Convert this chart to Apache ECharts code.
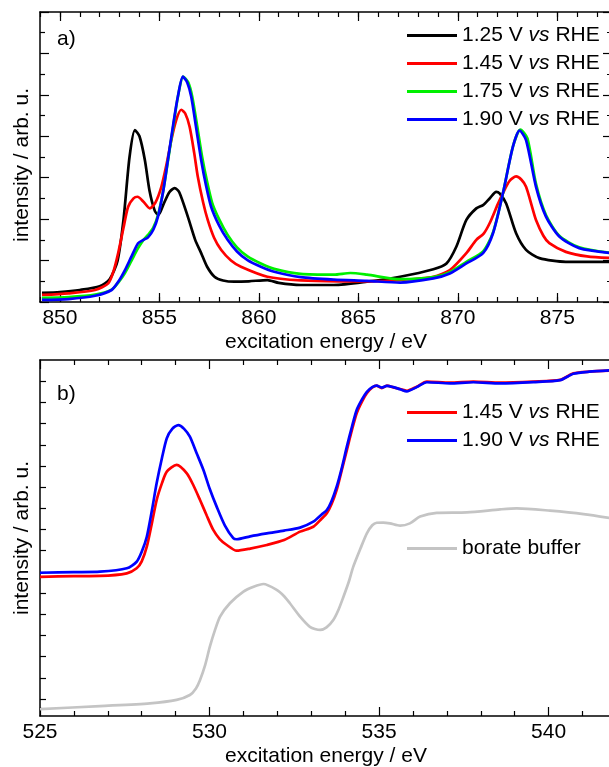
<!DOCTYPE html>
<html>
  <head>
    <meta charset="utf-8">
    <title>XAS spectra</title>
    <style>
      html, body { margin: 0; padding: 0; background: #fff; }
      #chart { width: 609px; height: 767px; }
    </style>
  </head>
  <body>
    <div id="chart"></div>
    <script src="https://cdn.jsdelivr.net/npm/echarts@6/dist/echarts.min.js"></script>
    <script>
      // Panel a) Ni L-edge, intensity in arbitrary units
      var niE_125 = [849.1, 850.0, 851.0, 852.0, 852.5, 852.9, 853.2, 853.5, 853.77, 854.0, 854.27, 854.5, 854.77, 854.95, 855.2, 855.5, 855.77, 856.0, 856.43, 856.8, 857.1, 857.4, 857.77, 858.2, 858.77, 859.5, 860.43, 861.0, 862.1, 863.77, 865.43, 867.1, 868.77, 869.43, 869.93, 870.43, 870.93, 871.27, 871.6, 871.93, 872.1, 872.43, 872.93, 873.43, 874.1, 875.43, 876.5, 877.75];
      var niI_125 = [0.22, 0.24, 0.29, 0.38, 0.55, 1.0, 2.0, 3.5, 4.15, 4.0, 3.43, 2.7, 2.2, 2.1, 2.35, 2.65, 2.75, 2.65, 2.06, 1.5, 1.18, 0.85, 0.61, 0.52, 0.49, 0.5, 0.53, 0.46, 0.41, 0.41, 0.49, 0.61, 0.79, 0.93, 1.34, 1.98, 2.26, 2.34, 2.5, 2.66, 2.62, 2.38, 1.66, 1.26, 1.06, 0.97, 0.97, 0.97];

      var niE_145 = [849.1, 850.43, 851.77, 852.43, 852.7, 852.93, 853.2, 853.43, 853.7, 853.9, 854.2, 854.52, 854.8, 855.1, 855.35, 855.6, 855.85, 856.1, 856.3, 856.52, 856.75, 856.93, 857.2, 857.43, 857.75, 858.1, 858.6, 859.1, 860.43, 862.1, 864.0, 865.43, 867.1, 868.77, 869.6, 870.43, 870.93, 871.3, 871.6, 872.0, 872.27, 872.6, 872.93, 873.2, 873.43, 873.7, 873.93, 874.3, 874.6, 875.43, 876.5, 877.75];
      var niI_145 = [0.17, 0.21, 0.29, 0.45, 0.75, 1.18, 1.8, 2.3, 2.5, 2.54, 2.42, 2.26, 2.4, 2.78, 3.3, 3.91, 4.4, 4.64, 4.55, 4.23, 3.6, 3.03, 2.4, 1.98, 1.55, 1.26, 1.0, 0.85, 0.61, 0.52, 0.5, 0.5, 0.53, 0.61, 0.77, 1.18, 1.5, 1.65, 1.9, 2.35, 2.63, 2.92, 3.03, 2.95, 2.78, 2.35, 1.98, 1.6, 1.42, 1.21, 1.1, 1.06];

      var niE_175 = [849.1, 850.43, 851.77, 852.6, 852.95, 853.27, 853.6, 853.93, 854.2, 854.43, 854.7, 854.93, 855.2, 855.43, 855.7, 855.93, 856.2, 856.45, 856.65, 856.9, 857.15, 857.4, 857.65, 858.0, 858.43, 858.9, 859.43, 860.1, 860.77, 862.1, 863.77, 864.6, 865.43, 867.1, 868.77, 869.6, 870.43, 871.27, 871.77, 872.27, 872.77, 873.15, 873.5, 873.93, 874.43, 875.1, 876.1, 877.75];
      var niI_175 = [0.1, 0.12, 0.18, 0.3, 0.48, 0.7, 1.0, 1.3, 1.5, 1.62, 1.8, 2.1, 2.7, 3.4, 4.25, 4.95, 5.44, 5.3, 4.96, 4.25, 3.5, 2.9, 2.4, 2.0, 1.62, 1.32, 1.1, 0.93, 0.8, 0.68, 0.66, 0.7, 0.66, 0.55, 0.6, 0.72, 0.97, 1.22, 1.68, 2.63, 3.75, 4.16, 3.95, 2.85, 2.1, 1.6, 1.32, 1.18];

      var niE_190 = [849.1, 850.43, 851.77, 852.6, 852.95, 853.27, 853.6, 853.93, 854.2, 854.43, 854.7, 854.93, 855.2, 855.43, 855.7, 855.93, 856.18, 856.4, 856.6, 856.85, 857.1, 857.35, 857.6, 858.0, 858.43, 858.9, 859.43, 860.1, 860.77, 862.1, 863.77, 865.43, 867.1, 868.77, 869.6, 870.43, 871.27, 871.77, 872.27, 872.77, 873.1, 873.43, 873.93, 874.43, 875.1, 876.1, 877.75];
      var niI_190 = [0.05, 0.07, 0.15, 0.29, 0.5, 0.77, 1.1, 1.42, 1.5, 1.56, 1.75, 2.06, 2.7, 3.43, 4.3, 4.96, 5.44, 5.3, 4.96, 4.2, 3.43, 2.8, 2.3, 1.85, 1.5, 1.22, 1.01, 0.85, 0.73, 0.6, 0.54, 0.51, 0.47, 0.57, 0.69, 0.93, 1.18, 1.66, 2.63, 3.75, 4.14, 3.91, 2.78, 2.06, 1.58, 1.3, 1.18];

      // Panel b) O K-edge
      var oE_145 = [525.0, 526.0, 526.77, 527.56, 527.85, 528.0, 528.15, 528.3, 528.44, 528.6, 528.74, 529.03, 529.33, 529.52, 529.72, 529.92, 530.11, 530.3, 530.51, 530.8, 531.2, 531.69, 532.2, 532.67, 533.06, 533.3, 533.46, 533.6, 533.75, 533.9, 534.05, 534.2, 534.34, 534.5, 534.64, 534.8, 534.93, 535.08, 535.23, 535.42, 535.62, 535.82, 536.11, 536.41, 537.09, 537.78, 538.57, 539.55, 540.34, 540.73, 541.2, 541.87];
      var oI_145 = [5.77, 5.8, 5.81, 5.93, 6.17, 6.5, 7.19, 8.3, 9.39, 10.2, 10.73, 11.05, 10.65, 10.1, 9.39, 8.65, 7.98, 7.55, 7.27, 7.0, 7.1, 7.27, 7.5, 7.9, 8.13, 8.5, 8.77, 9.2, 9.87, 10.8, 11.75, 12.7, 13.49, 14.05, 14.43, 14.7, 14.79, 14.67, 14.79, 14.71, 14.63, 14.55, 14.74, 14.98, 14.93, 14.98, 14.93, 14.98, 15.06, 15.37, 15.45, 15.5];

      var oE_190 = [525.0, 526.0, 526.77, 527.56, 527.85, 528.0, 528.15, 528.3, 528.44, 528.6, 528.74, 528.9, 529.08, 529.25, 529.42, 529.62, 529.82, 530.01, 530.21, 530.45, 530.7, 530.8, 531.2, 531.69, 532.2, 532.67, 533.06, 533.3, 533.46, 533.6, 533.75, 533.9, 534.05, 534.2, 534.34, 534.5, 534.64, 534.8, 534.93, 535.08, 535.23, 535.42, 535.62, 535.82, 536.11, 536.41, 537.09, 537.78, 538.57, 539.55, 540.34, 540.73, 541.2, 541.87];
      var oI_190 = [5.96, 5.99, 6.01, 6.17, 6.48, 6.95, 7.66, 8.9, 10.18, 11.4, 12.31, 12.75, 12.93, 12.75, 12.38, 11.6, 10.81, 9.9, 9.08, 8.2, 7.59, 7.54, 7.68, 7.82, 7.95, 8.09, 8.37, 8.7, 8.92, 9.35, 10.02, 10.9, 11.91, 12.85, 13.64, 14.15, 14.5, 14.72, 14.79, 14.7, 14.78, 14.72, 14.62, 14.52, 14.72, 14.95, 14.9, 14.95, 14.9, 14.96, 15.05, 15.35, 15.45, 15.52];

      var oE_borate = [525.0, 526.77, 528.24, 529.03, 529.42, 529.6, 529.72, 529.87, 530.01, 530.16, 530.31, 530.6, 531.0, 531.3, 531.59, 531.98, 532.2, 532.37, 532.67, 532.96, 533.26, 533.45, 533.65, 533.8, 533.95, 534.1, 534.24, 534.45, 534.64, 534.8, 534.93, 535.12, 535.32, 535.62, 535.91, 536.21, 536.7, 537.59, 538.57, 539.06, 540.04, 541.03, 541.87];
      var oI_borate = [-0.48, -0.33, -0.2, -0.04, 0.19, 0.5, 0.9, 1.6, 2.47, 3.25, 3.89, 4.52, 5.07, 5.3, 5.43, 5.15, 4.85, 4.52, 3.89, 3.41, 3.26, 3.38, 3.73, 4.2, 4.83, 5.5, 6.25, 7.1, 7.82, 8.2, 8.32, 8.33, 8.29, 8.18, 8.29, 8.61, 8.79, 8.81, 8.95, 9.0, 8.89, 8.73, 8.53];

      // tick values
      var niMajorTicks = [850, 855, 860, 865, 870, 875];
      var oLeftTicks = [0, 1, 2, 3, 4, 5, 6, 7, 8, 9, 10, 11, 12, 13, 14, 15];

      var FONT = '"Liberation Sans", Arial, sans-serif';
      var BLACK_LINE = { color: '#000', width: 1.2 };

      function zip(xs, ys) {
        return xs.map(function (x, i) { return [x, ys[i]]; });
      }

      function labelStyle(show) {
        return { show: show, fontSize: 21, color: '#000', fontFamily: FONT, margin: 6 };
      }

      // Ni panel: minor ticks every 1 eV, major ticks + labels at 850, 855...
      function niMinorAxis(pos, withName) {
        return {
          gridIndex: 0, type: 'value', position: pos,
          min: 849, max: 877.75, interval: 1,
          name: withName ? 'excitation energy / eV' : '',
          nameLocation: 'middle', nameGap: 30,
          nameTextStyle: { fontSize: 21, color: '#000', fontFamily: FONT },
          axisLine: { show: true, onZero: false, lineStyle: { color: '#000', width: 1.5 } },
          axisTick: { show: true, inside: true, length: 5, lineStyle: BLACK_LINE },
          axisLabel: { show: false },
          splitLine: { show: false }
        };
      }
      function niMajorAxis(pos, withLabels) {
        return {
          gridIndex: 0, type: 'value', position: pos,
          min: 849, max: 877.75,
          axisLine: { show: false, onZero: false },
          axisTick: { show: true, inside: true, length: 9, lineStyle: BLACK_LINE, customValues: niMajorTicks },
          axisLabel: Object.assign(labelStyle(withLabels), { customValues: niMajorTicks }),
          splitLine: { show: false }
        };
      }
      function oAxis(pos, withName) {
        return {
          gridIndex: 1, type: 'value', position: pos,
          min: 525, max: 541.87, interval: 5,
          name: withName ? 'excitation energy / eV' : '',
          nameLocation: 'middle', nameGap: 30,
          nameTextStyle: { fontSize: 21, color: '#000', fontFamily: FONT },
          axisLine: { show: true, onZero: false, lineStyle: { color: '#000', width: 1.5 } },
          axisTick: { show: true, inside: true, length: 9, lineStyle: BLACK_LINE },
          minorTick: { show: true, splitNumber: 5, length: 5, lineStyle: BLACK_LINE },
          axisLabel: Object.assign(labelStyle(withName), {
            formatter: function (v) { return v % 5 === 0 ? String(v) : ''; }
          }),
          splitLine: { show: false },
          minorSplitLine: { show: false }
        };
      }

      function niYAxis(pos, withName) {
        return {
          gridIndex: 0, type: 'value', position: pos,
          min: 0, max: 7, interval: 1,
          name: withName ? 'intensity / arb. u.' : '',
          nameLocation: 'middle', nameGap: 7,
          nameTextStyle: { fontSize: 21, color: '#000', fontFamily: FONT, padding: [0, 16, 0, 0] },
          axisLine: { show: true, onZero: false, lineStyle: { color: '#000', width: 1.5 } },
          axisTick: { show: true, inside: true, length: 9, lineStyle: BLACK_LINE },
          minorTick: { show: true, splitNumber: 2, length: 5, lineStyle: BLACK_LINE },
          axisLabel: { show: false },
          splitLine: { show: false },
          minorSplitLine: { show: false }
        };
      }
      function oYAxis(pos, withName) {
        return {
          gridIndex: 1, type: 'value', position: pos,
          min: -0.8, max: 16,
          name: withName ? 'intensity / arb. u.' : '',
          nameLocation: 'middle', nameGap: 7,
          nameTextStyle: { fontSize: 21, color: '#000', fontFamily: FONT },
          axisLine: { show: true, onZero: false, lineStyle: { color: '#000', width: 1.5 } },
          axisTick: { show: withName, inside: true, length: 6, lineStyle: BLACK_LINE, customValues: oLeftTicks },
          axisLabel: { show: false, customValues: oLeftTicks },
          splitLine: { show: false }
        };
      }

      function line(name, color, xi, yi, data, z) {
        return {
          name: name,
          type: 'line',
          xAxisIndex: xi,
          yAxisIndex: yi,
          data: data,
          showSymbol: false,
          symbol: 'none',
          smooth: 0.25,
          z: z,
          lineStyle: { color: color, width: 2.7 },
          itemStyle: { color: color }
        };
      }

      var legendText = {
        fontSize: 21,
        color: '#000',
        fontFamily: FONT,
        lineHeight: 20,
        rich: { i: { fontSize: 21, fontStyle: 'italic', color: '#000', fontFamily: FONT } }
      };
      function legendOf(names, top) {
        return {
          data: names,
          orient: 'vertical',
          left: 407,
          top: top,
          padding: 0,
          itemGap: 7,
          itemWidth: 50,
          itemHeight: 3,
          icon: 'rect',
          selectedMode: false,
          textStyle: legendText,
          formatter: function (n) { return n.replace('vs', '{i|vs}'); }
        };
      }

      var chart = echarts.init(document.getElementById('chart'), null, { renderer: 'canvas' });
      chart.setOption({
        animation: false,
        backgroundColor: '#fff',
        grid: [
          { left: 40, top: 12, width: 572, height: 290, outerBoundsMode: 'none', containLabel: false },
          { left: 40, top: 360, width: 572, height: 356, outerBoundsMode: 'none', containLabel: false }
        ],
        xAxis: [
          niMinorAxis('bottom', true),   // 0
          niMajorAxis('bottom', true),   // 1
          niMinorAxis('top', false),     // 2
          niMajorAxis('top', false),     // 3
          oAxis('bottom', true),         // 4
          oAxis('top', false)            // 5
        ],
        yAxis: [
          niYAxis('left', true),
          niYAxis('right', false),
          oYAxis('left', true),
          oYAxis('right', false)
        ],
        legend: [
          legendOf(['1.25 V vs RHE', '1.45 V vs RHE', '1.75 V vs RHE', '1.90 V vs RHE'], 25),
          legendOf(['1.45 V vs RHE', '1.90 V vs RHE'], 402),
          legendOf(['borate buffer'], 538)
        ],
        graphic: [
          { type: 'text', left: 57, top: 29, style: { text: 'a)', fontSize: 21, fill: '#000', fontFamily: FONT } },
          { type: 'text', left: 57, top: 384, style: { text: 'b)', fontSize: 21, fill: '#000', fontFamily: FONT } }
        ],
        series: [
          line('1.25 V vs RHE', '#000000', 0, 0, zip(niE_125, niI_125), 2),
          line('1.45 V vs RHE', '#ff0000', 0, 0, zip(niE_145, niI_145), 3),
          line('1.75 V vs RHE', '#00f000', 0, 0, zip(niE_175, niI_175), 4),
          line('1.90 V vs RHE', '#0000ff', 0, 0, zip(niE_190, niI_190), 5),
          line('borate buffer', '#c4c4c4', 4, 2, zip(oE_borate, oI_borate), 2),
          line('1.45 V vs RHE', '#ff0000', 4, 2, zip(oE_145, oI_145), 3),
          line('1.90 V vs RHE', '#0000ff', 4, 2, zip(oE_190, oI_190), 4)
        ]
      });
    </script>
  </body>
</html>
